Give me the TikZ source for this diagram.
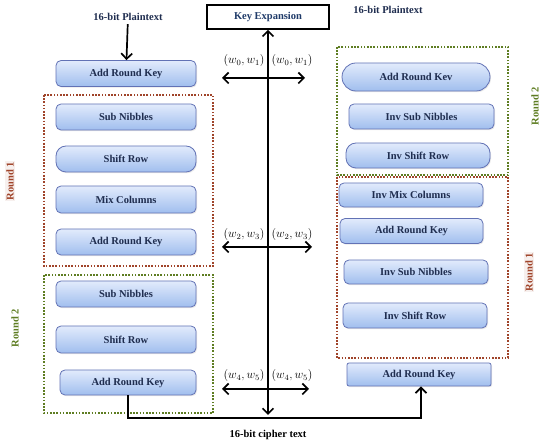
\documentclass[tikz,border=0pt]{standalone}
\usepackage{fontspec}
\setmainfont{Liberation Serif}
\usetikzlibrary{arrows.meta,shadows}
\definecolor{box-draw}{HTML}{6272B5}
\definecolor{box-top}{HTML}{E2EBFC}
\definecolor{box-bot}{HTML}{A0BEEE}
\definecolor{box-text}{HTML}{1F2D4F}
\definecolor{rnd1}{HTML}{A0442A}
\definecolor{rnd2}{HTML}{5E7D22}
\definecolor{keyblue}{HTML}{1F3A68}

\begin{document}
\begin{tikzpicture}[x=1pt,y=-1pt,
 op/.style={draw=box-draw, line width=0.8pt, rounded corners=5pt, top color=box-top, bottom color=box-bot,
   minimum width=140pt, minimum height=26pt, inner sep=0pt, font=\fontsize{10.5}{12}\selectfont\bfseries,
   text=box-text, drop shadow={opacity=0.18,shadow xshift=1pt,shadow yshift=-1.2pt}},
 lbl/.style={font=\fontsize{10.5}{12}\selectfont\bfseries},
 rnd/.style={font=\fontsize{10.5}{12}\selectfont\bfseries, rotate=90, inner sep=1pt},
 wire/.style={line width=1.7pt, -{Straight Barb[length=5.5pt,width=11pt]}},
 both/.style={line width=1.7pt, {Straight Barb[length=5.5pt,width=11pt]}-{Straight Barb[length=5.5pt,width=11pt]}},
 reddots/.style={rnd1, dash pattern=on 1.6pt off 1.6pt, line width=1.6pt},
 grndots/.style={rnd2, dash pattern=on 1.6pt off 1.6pt, line width=1.6pt},
]
 \useasboundingbox (0,0) rectangle (550,446);
 % round frames
 \draw[reddots] (44,95) rectangle (213,266);
 \draw[grndots] (44,275) rectangle (213,413);
 \draw[grndots] (337,47) rectangle (508,175);
 \draw[reddots] (337,177) rectangle (508,358);
 \node[rnd, text=rnd1, fill=rnd1!8] (lr1) at (10,181) {Round 1};
 \node[rnd, text=rnd2] (lr2) at (15,328) {Round 2};
 \node[rnd, text=rnd2] (rr2) at (535,106) {Round 2};
 \node[rnd, text=rnd1, fill=rnd1!8] (rr1) at (529,272) {Round 1};
 % encryption side
 \node[lbl, text=box-text] (pl) at (128,17) {16-bit Plaintext};
 \node[op] (ark0) at (126,73.5) {Add Round Key};
 \node[op] (sn1) at (126,117) {Sub Nibbles};
 \node[op, rounded corners=10pt] (sr1) at (126,159) {Shift Row};
 \node[op, minimum height=27pt] (mc1) at (126,199.5) {Mix Columns};
 \node[op] (ark1) at (126,242) {Add Round Key};
 \node[op] (sn2) at (126,294) {Sub Nibbles};
 \node[op, minimum height=27pt] (sr2) at (126,339.5) {Shift Row};
 \node[op, minimum width=136pt, minimum height=25pt] (ark2) at (128,382.5) {Add Round Key};
 \draw[wire] (pl) -- (ark0);
 % decryption side
 \node[lbl, text=box-text] (rpl) at (388,10) {16-bit Plaintext};
 \node[op, minimum width=148pt, minimum height=28pt, rounded corners=14pt] (rark0) at (416,77) {Add Round Kev};
 \node[op, minimum width=145pt, minimum height=25pt] (risn0) at (421.5,116.5) {Inv Sub Nibbles};
 \node[op, minimum width=144pt, minimum height=25pt, rounded corners=10pt] (risr0) at (418,155.5) {Inv Shift Row};
 \node[op, minimum width=144pt, minimum height=24pt] (rimc) at (411,195) {Inv Mix Columns};
 \node[op, minimum width=143pt, minimum height=25pt] (rark1) at (411.5,231) {Add Round Key};
 \node[op, minimum width=144pt, minimum height=24pt] (risn1) at (416,272) {Inv Sub Nibbles};
 \node[op, minimum width=144pt, minimum height=25pt] (risr1) at (415,315.5) {Inv Shift Row};
 \node[op, minimum width=144pt, minimum height=23pt, rounded corners=2pt] (rark2) at (419,374.5) {Add Round Key};
 % key schedule
 \node[draw, line width=1.6pt, minimum width=122pt, minimum height=24pt, inner sep=0pt, lbl, text=keyblue] (kexp) at (268,17) {Key Expansion};
 \coordinate (kbot) at (268,415);
 \draw[both] (kbot) -- (kexp.south);
 \coordinate (k0l) at (222,78); \coordinate (k0r) at (305,78);
 \coordinate (k1l) at (222,247); \coordinate (k1r) at (312,247);
 \coordinate (k2l) at (222,389); \coordinate (k2r) at (309,389);
 \draw[both] (k0l) -- (k0r);
 \draw[both] (k1l) -- (k1r);
 \draw[both] (k2l) -- (k2r);
 \foreach \n/\y/\a/\b in {0/61/0/1, 1/235/2/3, 2/376/4/5}{
   \node[font=\fontsize{12}{14}\selectfont, inner sep=0pt] (w\n l) at (244,\y) {$(w_\a,w_\b)$};
   \node[font=\fontsize{12}{14}\selectfont, inner sep=0pt] (w\n r) at (292,\y) {$(w_\a,w_\b)$};}
 % ciphertext route
 \coordinate (bot) at (268,418);
 \draw[wire] (ark2.south) |- (bot) -| ([xshift=2pt]rark2.south);
 \node[lbl] (ct) at (268,435) {16-bit cipher text};
\end{tikzpicture}
\end{document}
